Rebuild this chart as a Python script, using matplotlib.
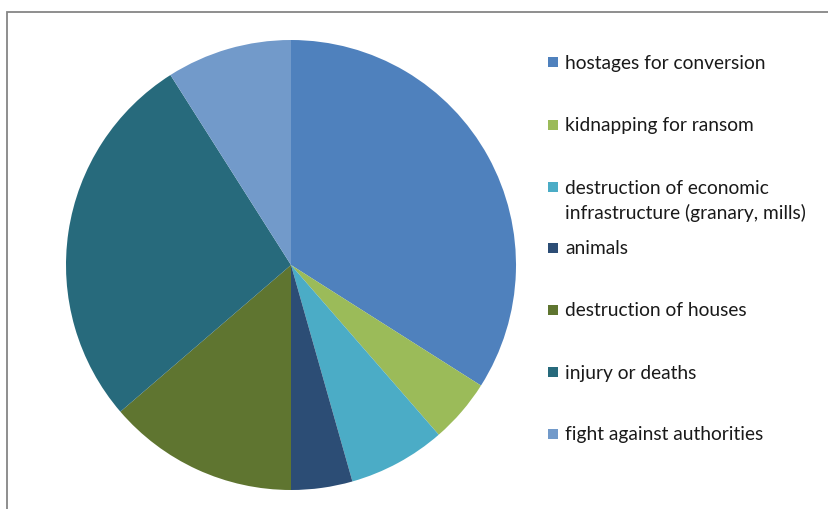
import matplotlib.pyplot as plt
from matplotlib.patches import Rectangle

# Shares of each incident type (percent)
labels = [
    "hostages for conversion",
    "kidnapping for ransom",
    "destruction of economic\ninfrastructure (granary, mills)",
    "animals",
    "destruction of houses",
    "injury or deaths",
    "fight against authorities",
]
values = [34.0, 4.6, 7.0, 4.4, 13.7, 27.3, 9.0]
colors = ["#4F81BD", "#9BBB59", "#4BACC6", "#2C4D75", "#5F7530", "#276A7C", "#729ACA"]

W, H = 829, 510
fig = plt.figure(figsize=(W / 100, H / 100), dpi=100)
plt.rcParams["font.family"] = ["Lato", "DejaVu Sans"]

# chart-area border (runs off the right and bottom edges)
fig.patches.append(Rectangle((7 / W, -0.1), 1.0, 1 - 13 / H + 0.1,
                             transform=fig.transFigure, fill=False,
                             edgecolor="#868686", linewidth=1.3))

# pie: centre (291, 266) px, radius 225 px
r = 225
ax = fig.add_axes([(291 - r) / W, (H - 266 - r) / H, 2 * r / W, 2 * r / H])
ax.pie(values, colors=colors, startangle=90, counterclock=False,
       wedgeprops=dict(linewidth=0))
ax.set_xlim(-1, 1)
ax.set_ylim(-1, 1)
ax.set_aspect("equal")
ax.axis("off")

# legend, drawn by hand to match the spacing
fs = 13.8
rows_y = [63, 126, 188, 249, 311, 373, 435]
for lab, col, y in zip(labels, colors, rows_y):
    fig.patches.append(Rectangle((548 / W, (H - y - 5) / H), 10 / W, 10 / H,
                                 transform=fig.transFigure, facecolor=col,
                                 edgecolor="none"))
    fig.text(565 / W, (H - y) / H, lab.split("\n")[0], fontsize=fs,
             va="center", ha="left", color="#1a1a1a")
    if "\n" in lab:
        fig.text(565 / W, (H - y - 25) / H, lab.split("\n")[1], fontsize=fs,
                 va="center", ha="left", color="#1a1a1a")

fig.savefig("out.png", dpi=100)
